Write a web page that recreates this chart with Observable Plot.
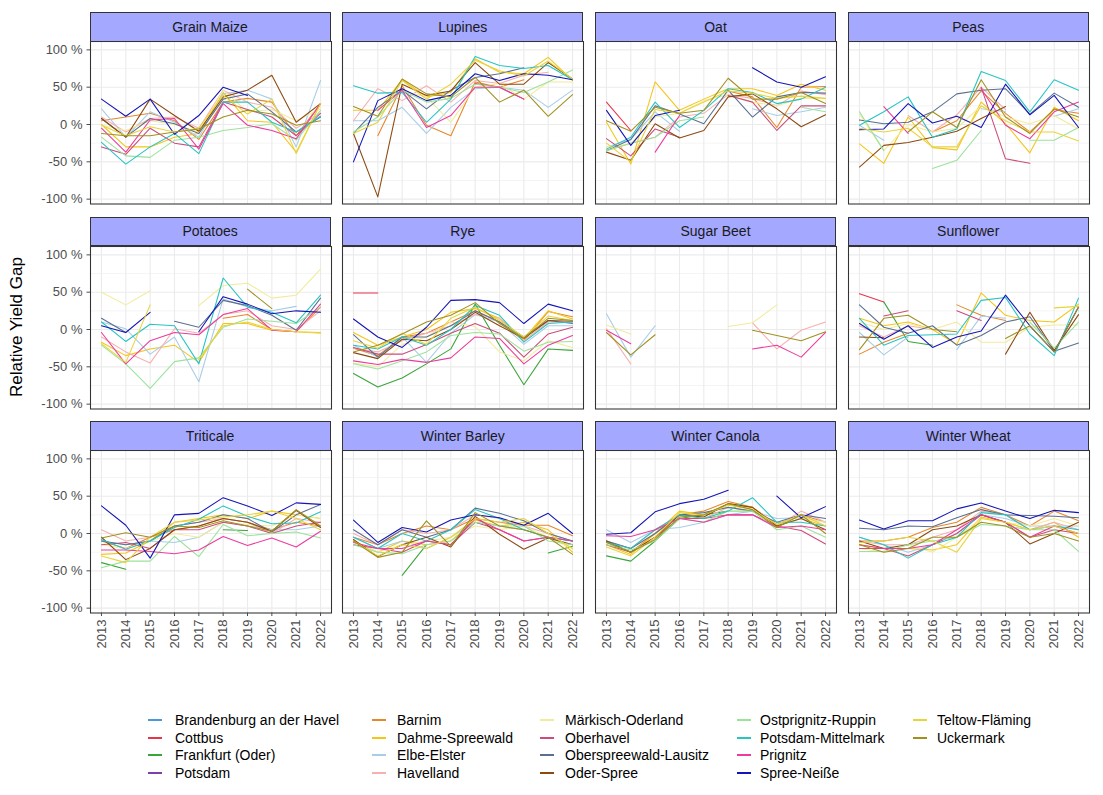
<!DOCTYPE html>
<html><head><meta charset="utf-8">
<script src="https://cdn.jsdelivr.net/npm/d3@7"></script>
<script src="https://cdn.jsdelivr.net/npm/@observablehq/plot@0.6"></script>
<style>
body{margin:0;background:#fff;font-family:"Liberation Sans",Arial,sans-serif;}
#chart{position:relative;width:1103px;height:795px;overflow:hidden;background:#fff}
.strip{position:absolute;box-sizing:border-box;background:#a4a8ff;border:1px solid #333;display:flex;align-items:center;justify-content:center;font-size:14px;color:#1a1a1a}
.panel{position:absolute}
.ytitle{position:absolute;left:17px;top:327px;transform:translate(-50%,-50%) rotate(-90deg);font-size:17px;color:#000;white-space:nowrap}
.lkey{position:absolute;width:14px;height:2px}
.ltxt{position:absolute;font-size:14px;line-height:16px;color:#000;white-space:nowrap}
</style></head><body><div id="chart"></div><script>
const _ = null;
const years = [2013, 2014, 2015, 2016, 2017, 2018, 2019, 2020, 2021, 2022];
const counties = ["Brandenburg an der Havel","Cottbus","Frankfurt (Oder)","Potsdam","Barnim","Dahme-Spreewald","Elbe-Elster","Havelland","Märkisch-Oderland","Oberhavel","Oberspreewald-Lausitz","Oder-Spree","Ostprignitz-Ruppin","Potsdam-Mittelmark","Prignitz","Spree-Neiße","Teltow-Fläming","Uckermark"];
const countyColors = ["#4a98d8","#e8334b","#3aa53a","#7e3fa8","#e8862a","#f5c518","#a7cde8","#f7b0b0","#f2eb9b","#cc4c7a","#5b7090","#8b4a10","#9be29b","#27c4c4","#ec3c9c","#1515b5","#e8d43c","#a09020"];
const crops = ["Grain Maize","Lupines","Oat","Peas","Potatoes","Rye","Sugar Beet","Sunflower","Triticale","Winter Barley","Winter Canola","Winter Wheat"];

const grainMaize = [
 [_,_,_,_,_,_,_,_,_,_],
 [_,_,_,_,_,_,_,_,_,_],
 [_,_,_,_,_,_,_,_,_,_],
 [_,_,_,_,_,_,_,_,_,_],
 [5,10,15,5,-20,30,35,30,-15,28],
 [0,-30,-30,-17,-12,43,5,3,-37,28],
 [21,-17,17,3,-17,41,46,34,-30,59],
 [10,-10,8,10,-5,46,30,23,-5,15],
 [-1,-8,5,0,-10,46,17,20,5,21],
 [-30,-40,-5,-25,-30,30,20,10,-15,15],
 [8,-17,8,1,-12,34,41,17,-10,10],
 [8,-17,34,12,-9,37,46,66,3,28],
 [-17,-42,-44,-21,-17,-8,-4,1,-21,19],
 [-24,-53,-30,-12,-39,30,30,3,-10,11],
 [-5,-37,6,8,-33,28,-1,-8,-19,28],
 [34,11,34,-13,12,50,39,_,_,_],
 [-1,-15,-3,-10,-5,39,14,34,-39,28],
 [-12,-15,-15,-10,-6,10,19,14,-1,5]
];
const lupines = [
 [_,_,_,_,_,_,_,_,_,_],
 [_,_,_,_,_,_,_,_,_,_],
 [_,_,_,_,_,_,_,_,_,_],
 [_,_,_,_,_,_,_,_,_,_],
 [_,-15,52,-1,-15,57,50,60,_,_],
 [19,19,60,37,43,88,70,68,90,59],
 [5,5,23,-12,23,48,50,46,23,46],
 [5,48,32,52,30,59,55,66,70,_],
 [_,_,45,37,3,50,55,34,57,57],
 [_,_,_,_,_,55,50,34,_,_],
 [-12,23,46,21,46,63,68,76,_,_],
 [-12,-97,54,39,45,83,54,54,83,61],
 [-10,10,46,30,35,54,50,43,57,73],
 [52,42,43,3,34,91,79,75,79,60],
 [_,19,46,-4,12,50,50,34,_,_],
 [-50,32,48,32,39,68,59,68,66,60],
 [-12,3,59,34,54,86,72,65,85,61],
 [24,11,61,41,37,63,30,46,11,40]
];
const oat = [
 [_,_,_,_,_,_,_,_,_,_],
 [30,-8,_,_,_,_,_,_,_,_],
 [_,_,_,_,_,_,_,_,_,_],
 [_,_,_,_,_,_,_,_,_,_],
 [_,_,_,_,_,45,37,-4,50,51],
 [3,-53,57,19,34,48,48,39,54,46],
 [-30,-20,17,-9,_,_,21,12,17,23],
 [-35,-25,-17,10,15,40,35,25,45,40],
 [-30,-26,10,15,32,40,30,25,35,35],
 [-19,-42,-6,-17,_,39,30,-8,25,25],
 [-35,-20,25,14,1,46,10,37,43,42],
 [-37,-48,1,-18,-8,37,41,21,-3,13],
 [-35,-25,-17,5,10,_,_,_,23,17],
 [-33,-17,30,-4,19,48,43,28,34,50],
 [_,_,-37,12,_,_,_,_,_,_],
 [19,-28,12,19,_,_,76,57,50,64],
 [-25,-50,20,15,30,45,42,35,38,35],
 [5,-9,23,15,19,62,34,34,43,28]
];
const peas = [
 [_,_,_,_,_,_,_,_,_,_],
 [_,_,_,_,_,_,_,_,_,_],
 [_,_,_,_,_,_,_,_,_,_],
 [_,_,_,_,_,_,_,_,_,_],
 [_,_,_,-10,5,45,15,-10,20,15],
 [-26,-52,10,-31,-34,30,1,-38,23,5],
 [-1,-21,_,_,_,21,17,_,11,21],
 [_,_,12,-10,13,50,20,_,_,_],
 [14,-35,0,-10,-5,25,10,1,12,-6],
 [_,_,_,_,_,50,-46,-52,_,_],
 [6,1,3,17,41,46,48,14,42,23],
 [-57,-28,-24,-17,-9,8,24,_,_,_],
 [17,-35,_,-59,-48,-8,_,-21,-21,-4],
 [-1,17,37,-17,-6,71,59,17,60,46],
 [_,24,-12,_,_,48,-1,-19,17,30],
 [-7,-6,28,2,11,-4,54,13,39,-4],
 [-5,-10,-5,-30,-30,25,5,-10,-10,-22],
 [6,_,-10,17,-4,60,10,-12,21,10]
];
const potatoes = [
 [_,_,_,_,_,_,_,_,_,_],
 [_,_,_,_,_,_,_,_,_,_],
 [_,_,_,_,_,_,_,_,_,_],
 [_,_,_,_,_,_,_,_,_,_],
 [_,_,_,_,_,15,20,0,-3,30],
 [-17,-35,-26,-21,-44,8,8,-1,-3,-4],
 [10,1,-33,-10,-70,41,30,25,31,_],
 [-10,-30,-45,1,-5,20,25,5,0,25],
 [50,33,52,_,32,59,62,42,46,81],
 [_,_,_,_,_,_,_,_,_,_],
 [15,-4,_,11,3,39,32,19,-1,42],
 [_,_,_,_,_,_,_,_,_,_],
 [-21,-46,-79,-43,-38,3,14,11,8,30],
 [10,-16,7,5,-46,69,30,23,9,46],
 [-4,-46,-15,-4,-7,20,28,-1,-3,34],
 [5,-4,23,_,-3,44,34,21,25,23],
 [-19,-44,33,_,-40,5,10,0,-3,-5],
 [_,_,_,_,_,_,54,28,_,_]
];
const rye = [
 [_,_,_,_,_,_,_,_,_,_],
 [49,49,_,_,_,_,_,_,_,_],
 [-59,-77,-65,-46,-26,34,-21,-74,-26,-28],
 [_,_,_,_,_,_,_,_,_,_],
 [-25,-35,-10,-5,10,25,10,-15,24,17],
 [-4,-21,-10,0,23,28,15,-12,25,14],
 [-21,-37,-10,-44,-5,20,10,-20,5,5],
 [-25,-30,-15,-5,5,20,15,-15,10,10],
 [-45,-50,-20,-10,10,4,-30,-42,-15,-24],
 [-24,-33,-33,-20,-5,8,-5,-37,-6,3],
 [-7,-37,-10,-10,5,25,10,-10,12,8],
 [-31,-39,-13,-15,0,23,5,-12,12,11],
 [-46,-53,-42,-30,-8,-4,-6,-29,-17,-16],
 [-21,-26,-10,-21,0,32,19,-17,8,10],
 [-42,-47,-40,-44,-38,-10,-12,-46,-21,-8],
 [14,-10,-24,3,39,40,36,8,34,25],
 [-15,-25,-5,-20,15,30,12,-10,18,12],
 [-30,-21,-6,10,19,36,8,-12,15,12]
];
const sugarBeet = [
 [_,_,_,_,_,_,_,_,_,_],
 [_,_,_,_,_,_,_,_,_,_],
 [_,_,_,_,_,_,_,_,_,_],
 [_,_,_,_,_,_,_,_,_,_],
 [_,_,_,_,_,_,_,_,_,_],
 [_,_,_,_,_,_,_,_,_,_],
 [21,-37,5,_,_,_,_,_,_,_],
 [1,-46,_,_,_,_,9,-26,-1,10],
 [6,-6,_,_,_,4,9,33,_,_],
 [_,_,_,_,_,_,_,_,_,_],
 [_,_,_,_,_,_,_,_,_,_],
 [_,_,_,_,_,_,_,_,_,_],
 [_,_,_,_,_,_,_,_,_,_],
 [_,_,_,_,_,_,_,_,_,_],
 [-1,-19,_,_,_,_,-26,-21,-37,-4],
 [_,_,_,_,_,_,_,_,_,_],
 [_,_,_,_,_,_,_,_,_,_],
 [-4,-34,-7,_,_,_,-1,-8,-15,-3]
];
const sunflower = [
 [_,_,_,_,_,_,_,_,_,_],
 [48,37,_,_,_,_,_,_,_,_],
 [_,37,-16,-21,_,_,_,_,_,_],
 [_,_,_,_,_,_,_,_,_,_],
 [-33,-17,-5,_,33,19,12,_,_,_],
 [15,5,10,0,-20,49,19,12,10,34],
 [-4,-34,-10,_,-27,18,15,_,_,25],
 [5,-10,5,0,_,_,_,_,_,_],
 [10,0,8,0,10,-17,-17,3,6,6],
 [_,18,25,_,25,12,_,_,_,_],
 [33,3,-5,5,-21,-8,10,17,-29,-18],
 [-10,-11,_,_,_,_,-33,23,-28,20],
 [_,_,_,_,_,_,_,10,-25,10],
 [15,-21,-8,-7,-6,39,43,-6,-35,42],
 [_,_,_,_,_,_,_,_,_,_],
 [8,-13,5,-24,-10,-2,46,5,-30,30],
 [_,_,_,_,_,_,_,_,29,31],
 [-27,15,19,0,-3,_,-12,5,-30,30]
];
const triticale = [
 [_,_,_,_,_,_,_,_,_,_],
 [_,_,_,_,_,_,_,_,_,_],
 [-39,-48,_,_,_,5,4,_,_,_],
 [_,_,_,_,_,_,_,_,_,_],
 [-10,-20,-5,5,10,20,15,5,15,10],
 [-28,-26,-10,15,20,25,20,30,25,20],
 [-10,-15,-10,-12,-5,15,10,5,5,10],
 [5,-10,-5,10,15,20,15,0,20,15],
 [-15,-20,-10,0,-5,15,12,10,25,20],
 [-15,-12,-20,5,5,15,10,0,10,15],
 [-10,-15,-10,10,15,25,20,2,25,39],
 [-5,-35,-20,5,10,20,15,3,31,8],
 [-46,-37,-37,-4,-31,12,-3,0,2,-6],
 [-8,-21,-10,8,19,37,23,13,14,29],
 [-22,-22,-24,-27,-22,-4,-16,-6,-18,3],
 [37,11,-33,25,27,48,37,24,41,39],
 [-30,-39,-5,15,18,22,25,30,20,5],
 [-6,1,-5,10,8,17,10,3,32,10]
];
const winterBarley = [
 [_,_,_,_,_,_,_,_,_,_],
 [_,_,_,_,_,_,_,_,_,_],
 [_,_,-56,-15,_,_,_,_,-26,-17],
 [_,_,_,_,_,_,_,_,_,_],
 [-5,-15,0,10,5,20,15,11,11,-3],
 [-10,-25,-10,-15,-10,18,10,15,5,-25],
 [-5,-20,-10,-20,-5,15,10,5,-5,-15],
 [0,-15,5,0,5,25,20,10,0,-10],
 [-10,-25,-15,-10,-5,10,5,10,-5,-20],
 [-15,-20,-25,-10,-15,15,5,-10,-5,-10],
 [5,-15,5,-5,5,34,27,17,0,-10],
 [-8,-31,-15,-5,-18,23,-1,-21,-6,-15],
 [-15,-25,-27,-15,-10,15,10,10,-10,-15],
 [-5,-20,0,-10,5,32,20,5,-5,-10],
 [-12,-20,-20,-10,-15,20,5,-10,-5,-10],
 [18,-12,8,2,18,25,21,11,27,0],
 [-10,-30,-15,-20,-5,20,15,20,0,-20],
 [-10,-32,-25,17,-17,28,10,5,-5,-28]
];
const winterCanola = [
 [_,_,_,_,_,_,_,_,_,_],
 [_,_,_,_,_,_,_,_,_,_],
 [-30,-37,-10,20,25,30,_,_,_,_],
 [_,_,_,_,_,_,_,_,_,_],
 [-10,-25,0,25,30,43,35,12,25,15],
 [-15,-28,0,30,25,40,35,10,20,10],
 [5,-12,5,8,15,25,30,20,21,15],
 [-10,-20,5,25,20,35,30,10,30,15],
 [-12,-25,-5,25,20,30,30,10,20,15],
 [-15,-25,-5,20,20,25,25,10,4,-14],
 [-10,-20,0,25,28,35,30,15,25,20],
 [-10,-25,-5,25,22,40,35,10,20,5],
 [-15,-22,-10,20,15,30,30,5,10,-5],
 [-12,-20,5,25,20,30,48,15,15,10],
 [-3,-4,5,20,15,25,25,8,10,5],
 [-1,1,29,40,46,58,_,50,21,36],
 [-18,-30,-5,28,25,38,32,12,25,10],
 [-12,-25,-8,22,25,40,32,8,25,0]
];
const winterWheat = [
 [_,_,_,_,_,_,_,_,_,_],
 [_,_,_,_,_,_,_,_,_,_],
 [_,_,_,_,_,_,_,_,_,_],
 [_,_,_,_,_,_,_,_,_,_],
 [-10,-10,-5,8,15,35,25,10,30,17],
 [-15,-20,-20,-22,-15,22,15,5,15,-5],
 [-5,-15,-25,-15,0,25,20,10,10,10],
 [-10,-15,-15,-5,5,30,25,5,15,5],
 [-20,-25,-15,-25,-5,20,15,10,20,10],
 [-20,-20,-30,-15,0,25,15,-5,5,0],
 [7,5,10,9,21,32,25,24,23,21],
 [-10,-20,-15,5,10,25,15,-14,0,15],
 [-24,-24,-15,-10,-5,12,10,5,5,-24],
 [-5,-15,-33,-15,-5,28,25,5,10,5],
 [-15,-20,-20,-15,5,25,15,-5,10,0],
 [18,6,17,17,33,41,30,20,31,28],
 [-12,-10,-5,-10,-25,20,15,5,10,0],
 [-15,-25,-20,-5,-5,15,10,-5,0,-10]
];
const cropValues = [grainMaize, lupines, oat, peas, potatoes, rye, sugarBeet, sunflower, triticale, winterBarley, winterCanola, winterWheat];

const rows = [];
crops.forEach((crop, ci) => {
  cropValues[ci].forEach((series, k) => {
    series.forEach((v, i) => rows.push({crop, county: counties[k], year: years[i], value: v}));
  });
});

const chart = document.getElementById("chart");
const colLeft = [89.6, 342.3, 595, 847.7];
const rowTop = [41, 245.5, 450];
const PW = 241, PH = 162.5;
const majorY = [-100, -50, 0, 50, 100];
const minorY = [-75, -25, 25, 75];

crops.forEach((crop, ci) => {
  const col = ci % 4, row = Math.floor(ci / 4);
  const ml = col === 0 ? 60 : 0, mb = row === 2 ? 60 : 0;
  const marks = [
    Plot.gridY(minorY, {stroke: "#ebebeb", strokeOpacity: 1, strokeWidth: 0.55}),
    Plot.gridY(majorY, {stroke: "#ebebeb", strokeOpacity: 1, strokeWidth: 1.1}),
    Plot.gridX(years, {stroke: "#ebebeb", strokeOpacity: 1, strokeWidth: 1.1}),
    Plot.line(rows.filter(r => r.crop === crop), {x: "year", y: "value", z: "county", stroke: "county", strokeWidth: 1.07}),
    Plot.frame({stroke: "#333333", strokeWidth: 1.07})
  ];
  if (col === 0) marks.push(Plot.axisY(majorY, {label: null, tickFormat: d => d + " %", fontSize: 13, tickSize: 3.5, tickPadding: 4.5, color: "#4d4d4d"}));
  if (row === 2) marks.push(Plot.axisX(years, {label: null, tickRotate: -90, tickFormat: d => String(d), fontSize: 13, tickSize: 3.5, tickPadding: 3, color: "#4d4d4d"}));
  const p = Plot.plot({
    width: PW + ml, height: PH + mb,
    marginLeft: ml, marginRight: 0, marginTop: 0, marginBottom: mb,
    x: {domain: [2012.55, 2022.45], label: null, axis: row === 2 ? undefined : null},
    y: {domain: [-106.5, 111.2], label: null, axis: col === 0 ? undefined : null},
    color: {domain: counties, range: countyColors},
    style: {overflow: "visible", background: "transparent", fontFamily: "Liberation Sans, Arial, sans-serif"},
    marks
  });
  p.classList.add("panel");
  p.style.left = (colLeft[col] - ml) + "px";
  p.style.top = rowTop[row] + "px";
  p.style.maxWidth = "none";
  chart.appendChild(p);

  const s = document.createElement("div");
  s.className = "strip";
  s.textContent = crop;
  s.style.left = colLeft[col] + "px";
  s.style.top = (rowTop[row] - 29) + "px";
  s.style.width = PW + "px";
  s.style.height = "29.5px";
  chart.appendChild(s);
});

const yt = document.createElement("div");
yt.className = "ytitle";
yt.textContent = "Relative Yield Gap";
chart.appendChild(yt);

const keyLeft = [148, 372, 540, 737, 913];
const textLeft = [175, 397, 565, 760, 937];
counties.forEach((c, k) => {
  const col = Math.floor(k / 4), r = k % 4;
  const yc = Math.round(720 + r * 17.7);
  const key = document.createElement("div");
  key.className = "lkey";
  key.style.left = keyLeft[col] + "px";
  key.style.top = (yc - 1) + "px";
  key.style.background = countyColors[k];
  chart.appendChild(key);
  const t = document.createElement("div");
  t.className = "ltxt";
  t.style.left = textLeft[col] + "px";
  t.style.top = (yc - 8) + "px";
  t.textContent = c;
  chart.appendChild(t);
});
</script></body></html>
